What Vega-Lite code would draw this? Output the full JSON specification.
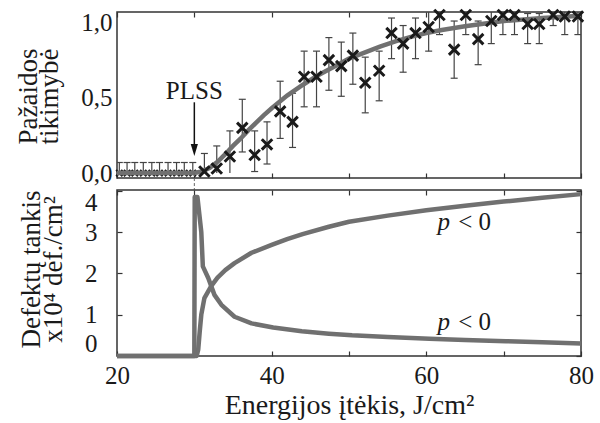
{
  "$schema": "https://vega.github.io/schema/vega-lite/v6.json",
  "autosize": {"type": "pad"},
  "padding": {"left": 13, "top": 3, "right": 7, "bottom": 3},
  "spacing": 12,
  "bounds": "flush",
  "background": "white",
  "config": {
    "font": "Liberation Serif",
    "view": {"stroke": "#333333", "strokeWidth": 1.5},
    "text": {"font": "Liberation Serif"},
    "axis": {
      "domain": false, "grid": false,
      "labelFont": "Liberation Serif", "titleFont": "Liberation Serif",
      "labelFontSize": 25, "titleFontSize": 27, "titleFontWeight": "normal",
      "labelColor": "#1a1a1a", "titleColor": "#1a1a1a",
      "tickColor": "#333333", "tickWidth": 1.2
    }
  },
  "datasets": {
    "pts": [
      {"x": 20.3, "p": 0, "lo": 0, "hi": 0.07},
      {"x": 21.3, "p": 0, "lo": 0, "hi": 0.07},
      {"x": 22.3, "p": 0, "lo": 0, "hi": 0.07},
      {"x": 23.4, "p": 0, "lo": 0, "hi": 0.07},
      {"x": 24.5, "p": 0, "lo": 0, "hi": 0.07},
      {"x": 25.5, "p": 0, "lo": 0, "hi": 0.07},
      {"x": 26.6, "p": 0, "lo": 0, "hi": 0.07},
      {"x": 27.7, "p": 0, "lo": 0, "hi": 0.07},
      {"x": 28.7, "p": 0, "lo": 0, "hi": 0.07},
      {"x": 29.8, "p": 0, "lo": 0, "hi": 0.07},
      {"x": 31.3, "p": 0.01, "lo": 0, "hi": 0.13},
      {"x": 32.9, "p": 0.03, "lo": 0, "hi": 0.18},
      {"x": 34.6, "p": 0.11, "lo": 0, "hi": 0.28},
      {"x": 36.2, "p": 0.30, "lo": 0.14, "hi": 0.49},
      {"x": 37.8, "p": 0.12, "lo": 0.01, "hi": 0.28},
      {"x": 39.4, "p": 0.19, "lo": 0.06, "hi": 0.34},
      {"x": 41.1, "p": 0.41, "lo": 0.23, "hi": 0.61},
      {"x": 42.7, "p": 0.34, "lo": 0.17, "hi": 0.53},
      {"x": 44.2, "p": 0.64, "lo": 0.44, "hi": 0.81},
      {"x": 45.8, "p": 0.64, "lo": 0.44, "hi": 0.81},
      {"x": 47.4, "p": 0.75, "lo": 0.55, "hi": 0.90},
      {"x": 49.0, "p": 0.71, "lo": 0.51, "hi": 0.87},
      {"x": 50.5, "p": 0.78, "lo": 0.59, "hi": 0.93},
      {"x": 52.1, "p": 0.60, "lo": 0.40, "hi": 0.77},
      {"x": 53.9, "p": 0.68, "lo": 0.48, "hi": 0.81},
      {"x": 55.5, "p": 0.93, "lo": 0.76, "hi": 1.03},
      {"x": 57.0, "p": 0.86, "lo": 0.67, "hi": 0.98},
      {"x": 58.6, "p": 0.93, "lo": 0.76, "hi": 1.03},
      {"x": 60.3, "p": 0.97, "lo": 0.81, "hi": 1.10},
      {"x": 61.7, "p": 1.05, "lo": 0.92, "hi": 1.15},
      {"x": 63.6, "p": 0.82, "lo": 0.63, "hi": 1.01},
      {"x": 65.1, "p": 1.05, "lo": 0.92, "hi": 1.15},
      {"x": 66.7, "p": 0.89, "lo": 0.72, "hi": 1.01},
      {"x": 68.4, "p": 1.01, "lo": 0.86, "hi": 1.10},
      {"x": 69.9, "p": 1.05, "lo": 0.92, "hi": 1.15},
      {"x": 71.4, "p": 1.05, "lo": 0.92, "hi": 1.15},
      {"x": 73.1, "p": 0.99, "lo": 0.86, "hi": 1.06},
      {"x": 74.6, "p": 0.99, "lo": 0.86, "hi": 1.06},
      {"x": 76.4, "p": 1.05, "lo": 0.98, "hi": 1.12},
      {"x": 77.9, "p": 1.04, "lo": 0.92, "hi": 1.15},
      {"x": 79.6, "p": 1.04, "lo": 0.92, "hi": 1.15}
    ],
    "fit": [
      {"x": 20, "p": 0}, {"x": 30, "p": 0}, {"x": 31, "p": 0.01}, {"x": 32, "p": 0.035},
      {"x": 33, "p": 0.075}, {"x": 34, "p": 0.125}, {"x": 35, "p": 0.18}, {"x": 36, "p": 0.23},
      {"x": 37, "p": 0.285}, {"x": 38, "p": 0.335}, {"x": 39, "p": 0.385}, {"x": 40, "p": 0.43},
      {"x": 42, "p": 0.515}, {"x": 44, "p": 0.585}, {"x": 46, "p": 0.65}, {"x": 48, "p": 0.705},
      {"x": 50, "p": 0.76}, {"x": 52, "p": 0.80}, {"x": 54, "p": 0.84}, {"x": 56, "p": 0.875},
      {"x": 58, "p": 0.905}, {"x": 60, "p": 0.93}, {"x": 62, "p": 0.95}, {"x": 65, "p": 0.975},
      {"x": 70, "p": 1.01}, {"x": 75, "p": 1.03}, {"x": 80, "p": 1.045}
    ],
    "plss": [{"x": 30, "top": 0.47, "tip": 0.19, "head": 0.153, "ty": 0.49, "gap": -0.11, "zero": 0, "label": "PLSS"}],
    "dens": [
      {"s": "A", "x": 20, "d": 0}, {"s": "A", "x": 30.3, "d": 0}, {"s": "A", "x": 30.5, "d": 0.15},
      {"s": "A", "x": 30.7, "d": 0.6}, {"s": "A", "x": 30.9, "d": 1.0}, {"s": "A", "x": 31.3, "d": 1.4},
      {"s": "A", "x": 32.2, "d": 1.7}, {"s": "A", "x": 33, "d": 1.9}, {"s": "A", "x": 34, "d": 2.08},
      {"s": "A", "x": 35.2, "d": 2.25}, {"s": "A", "x": 37.4, "d": 2.5}, {"s": "A", "x": 40, "d": 2.69},
      {"s": "A", "x": 42, "d": 2.83}, {"s": "A", "x": 44, "d": 2.95}, {"s": "A", "x": 47.4, "d": 3.13},
      {"s": "A", "x": 50, "d": 3.25}, {"s": "A", "x": 55, "d": 3.4}, {"s": "A", "x": 60, "d": 3.53},
      {"s": "A", "x": 65, "d": 3.64}, {"s": "A", "x": 70, "d": 3.74}, {"s": "A", "x": 75, "d": 3.83},
      {"s": "A", "x": 80, "d": 3.92},
      {"s": "B", "x": 20, "d": 0}, {"s": "B", "x": 30.0, "d": 0}, {"s": "B", "x": 30.05, "d": 3.85},
      {"s": "B", "x": 30.4, "d": 3.85}, {"s": "B", "x": 30.9, "d": 3.0}, {"s": "B", "x": 31.1, "d": 2.17},
      {"s": "B", "x": 31.8, "d": 1.89}, {"s": "B", "x": 32.6, "d": 1.48}, {"s": "B", "x": 33.5, "d": 1.24},
      {"s": "B", "x": 35.2, "d": 0.95}, {"s": "B", "x": 37.4, "d": 0.79}, {"s": "B", "x": 40.2, "d": 0.69},
      {"s": "B", "x": 43.9, "d": 0.6}, {"s": "B", "x": 47.4, "d": 0.54}, {"s": "B", "x": 50.4, "d": 0.5},
      {"s": "B", "x": 55, "d": 0.46}, {"s": "B", "x": 60.4, "d": 0.42}, {"s": "B", "x": 65, "d": 0.39},
      {"s": "B", "x": 70.3, "d": 0.36}, {"s": "B", "x": 75, "d": 0.33}, {"s": "B", "x": 80, "d": 0.3}
    ],
    "plab": [
      {"x": 62.24, "d": 3.05, "t": "p"}, {"x": 62.24, "d": 0.63, "t": "p"}
    ],
    "lt": [
      {"x": 66.25, "d": 3.05, "t": "< 0"}, {"x": 66.25, "d": 0.63, "t": "< 0"}
    ]
  },
  "vconcat": [
    {
      "width": 464, "height": 166,
      "resolve": {"axis": {"x": "independent"}},
      "layer": [
        {
          "data": {"name": "pts"},
          "mark": {"type": "rule", "color": "#444444", "strokeWidth": 1.2, "clip": true},
          "encoding": {
            "x": {"field": "x", "type": "quantitative", "scale": {"domain": [20, 80], "nice": false, "zero": false},
                  "axis": {"orient": "bottom", "values": [20, 30, 40, 50, 60, 70, 80], "tickSize": -5, "labels": false, "title": null}},
            "y": {"field": "lo", "type": "quantitative", "scale": {"domain": [-0.033, 1.07], "nice": false, "zero": false},
                  "axis": {"values": [0, 0.5, 1], "ticks": false, "labelPadding": 5, "labelExpr": "replace(format(datum.value, '.1f'), '.', ',')",
                           "title": ["Pažaidos", "tikimybė"], "titleX": -75, "titleY": 84, "titleLineHeight": 21}},
            "y2": {"field": "hi"}
          }
        },
        {
          "data": {"name": "pts"},
          "mark": {"type": "point", "shape": "M-1,0L1,0", "filled": false, "size": 49, "color": "#444444", "strokeWidth": 1.2, "opacity": 1, "clip": true},
          "encoding": {
            "x": {"field": "x", "type": "quantitative", "axis": {"orient": "top", "values": [20, 30, 40, 50, 60, 70, 80], "tickSize": -5, "labels": false, "title": null}},
            "y": {"field": "hi", "type": "quantitative"}
          }
        },
        {
          "data": {"name": "pts"},
          "transform": [{"filter": "datum.lo > 0"}],
          "mark": {"type": "point", "shape": "M-1,0L1,0", "filled": false, "size": 49, "color": "#444444", "strokeWidth": 1.2, "opacity": 1, "clip": true},
          "encoding": {
            "x": {"field": "x", "type": "quantitative", "axis": null},
            "y": {"field": "lo", "type": "quantitative"}
          }
        },
        {
          "data": {"name": "pts"},
          "transform": [{"filter": "datum.x < 30"}],
          "mark": {"type": "point", "shape": "M-1,-1L1,1M-1,1L1,-1", "filled": false, "size": 40, "color": "#1a1a1a", "strokeWidth": 2, "opacity": 1},
          "encoding": {
            "x": {"field": "x", "type": "quantitative", "axis": null},
            "y": {"field": "p", "type": "quantitative"}
          }
        },
        {
          "data": {"name": "fit"},
          "mark": {"type": "line", "color": "#707070", "strokeWidth": 4.5, "clip": true},
          "encoding": {
            "x": {"field": "x", "type": "quantitative", "axis": null},
            "y": {"field": "p", "type": "quantitative"}
          }
        },
        {
          "data": {"name": "pts"},
          "transform": [{"filter": "datum.x > 30"}],
          "mark": {"type": "point", "shape": "M-1,-1L1,1M-1,1L1,-1", "filled": false, "size": 110, "color": "#1a1a1a", "strokeWidth": 3, "opacity": 1},
          "encoding": {
            "x": {"field": "x", "type": "quantitative", "axis": null},
            "y": {"field": "p", "type": "quantitative"}
          }
        },
        {
          "data": {"name": "plss"},
          "mark": {"type": "rule", "color": "#666666", "strokeWidth": 1, "strokeDash": [3, 2], "clip": false},
          "encoding": {
            "x": {"field": "x", "type": "quantitative", "axis": null},
            "y": {"field": "zero", "type": "quantitative"},
            "y2": {"field": "gap"}
          }
        },
        {
          "data": {"name": "plss"},
          "mark": {"type": "rule", "color": "#111111", "strokeWidth": 1.5},
          "encoding": {
            "x": {"field": "x", "type": "quantitative", "axis": null},
            "y": {"field": "top", "type": "quantitative"},
            "y2": {"field": "tip"}
          }
        },
        {
          "data": {"name": "plss"},
          "mark": {"type": "point", "shape": "M-0.6,-1L0.6,-1L0,1Z", "filled": true, "size": 144, "color": "#111111", "opacity": 1},
          "encoding": {
            "x": {"field": "x", "type": "quantitative", "axis": null},
            "y": {"field": "head", "type": "quantitative"}
          }
        },
        {
          "data": {"name": "plss"},
          "mark": {"type": "text", "font": "Liberation Serif", "fontSize": 25, "color": "#1a1a1a", "align": "center", "baseline": "alphabetic"},
          "encoding": {
            "x": {"field": "x", "type": "quantitative", "axis": null},
            "y": {"field": "ty", "type": "quantitative"},
            "text": {"field": "label"}
          }
        }
      ]
    },
    {
      "width": 464, "height": 166,
      "resolve": {"axis": {"x": "independent", "y": "independent"}},
      "layer": [
        {
          "data": {"name": "dens"},
          "mark": {"type": "line", "color": "#707070", "strokeWidth": 4.5, "strokeJoin": "round"},
          "encoding": {
            "x": {"field": "x", "type": "quantitative", "scale": {"domain": [20, 80], "nice": false, "zero": false},
                  "axis": {"orient": "bottom", "values": [20, 30, 40, 50, 60, 70, 80], "tickSize": -5, "labelPadding": 12,
                           "labelExpr": "datum.value % 20 === 0 ? datum.label : ''", "labelFlush": false,
                           "title": "Energijos įtėkis, J/cm²", "titleFontSize": 28, "titlePadding": 3}},
            "y": {"field": "d", "type": "quantitative", "scale": {"domain": [0, 4.02], "nice": false, "zero": false},
                  "axis": {"orient": "left", "values": [0, 1, 2, 3, 4], "tickSize": -5, "labelPadding": 25, "labelFlush": true,
                           "title": ["Defektų tankis", "x10⁴ def./cm²"], "titleX": -72, "titleY": 79, "titleLineHeight": 22}},
            "detail": {"field": "s"}
          }
        },
        {
          "data": {"name": "dens"},
          "mark": {"type": "line", "opacity": 0},
          "encoding": {
            "x": {"field": "x", "type": "quantitative", "axis": {"orient": "top", "values": [20, 30, 40, 50, 60, 70, 80], "tickSize": -5, "labels": false, "title": null}},
            "y": {"field": "d", "type": "quantitative", "axis": {"orient": "right", "values": [0, 1, 2, 3, 4], "tickSize": -5, "labels": false, "title": null}},
            "detail": {"field": "s"}
          }
        },
        {
          "data": {"name": "plab"},
          "mark": {"type": "text", "font": "Liberation Serif", "fontSize": 25, "fontStyle": "italic", "color": "#1a1a1a", "align": "center", "baseline": "alphabetic"},
          "encoding": {
            "x": {"field": "x", "type": "quantitative", "axis": null},
            "y": {"field": "d", "type": "quantitative", "axis": null},
            "text": {"field": "t"}
          }
        },
        {
          "data": {"name": "lt"},
          "mark": {"type": "text", "font": "Liberation Serif", "fontSize": 25, "color": "#1a1a1a", "align": "center", "baseline": "alphabetic"},
          "encoding": {
            "x": {"field": "x", "type": "quantitative", "axis": null},
            "y": {"field": "d", "type": "quantitative", "axis": null},
            "text": {"field": "t"}
          }
        }
      ]
    }
  ]
}
